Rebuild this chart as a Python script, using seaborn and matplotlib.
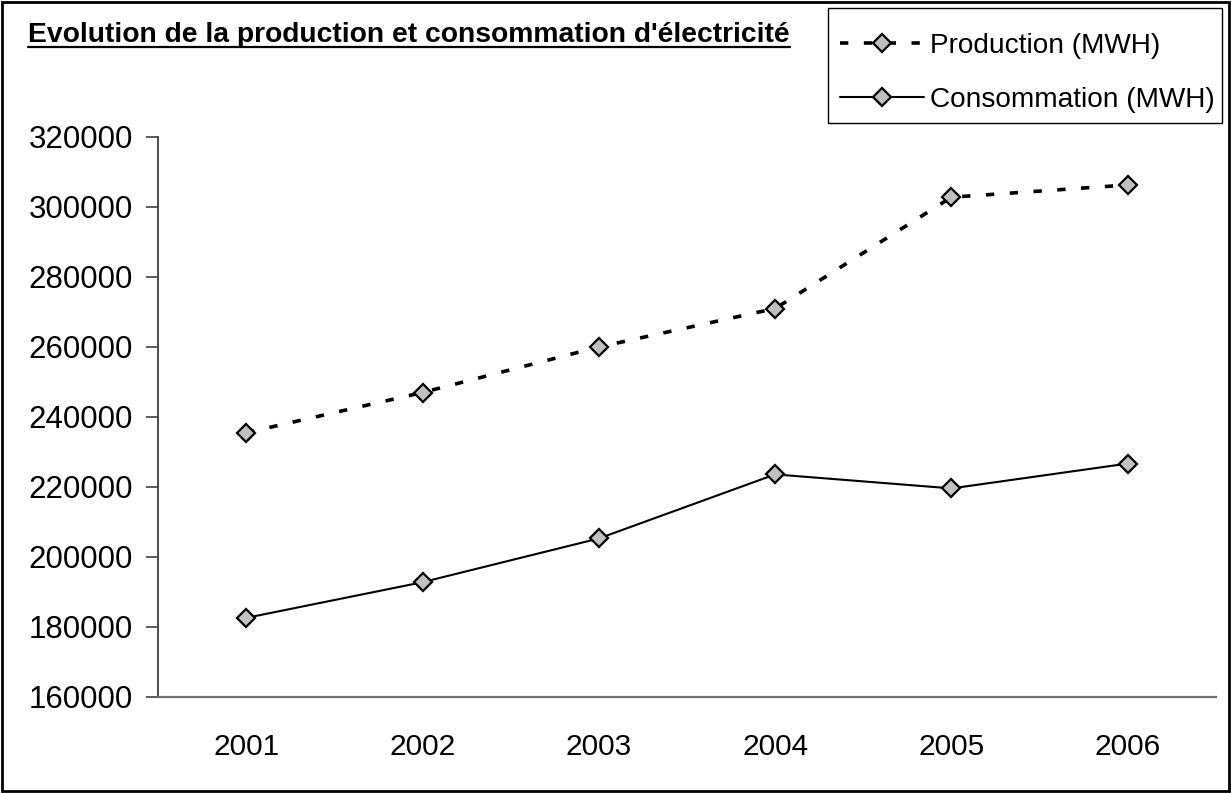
import matplotlib
matplotlib.use("Agg")
import matplotlib.pyplot as plt
import seaborn as sns
import pandas as pd
from matplotlib.lines import Line2D
from matplotlib.patches import Rectangle

years = ["2001", "2002", "2003", "2004", "2005", "2006"]
production = [235500, 247000, 260000, 271000, 302800, 306300]
consommation = [182600, 192800, 205300, 223600, 219600, 226700]
series_names = ["Production (MWH)", "Consommation (MWH)"]
title = "Evolution de la production et consommation d'électricité"
y_ticks = [160000, 180000, 200000, 220000, 240000, 260000, 280000, 300000, 320000]

sns.set_theme(style="white")
plt.rcParams["font.family"] = ["Liberation Sans", "DejaVu Sans"]
plt.rcParams["text.color"] = "black"
plt.rcParams["xtick.color"] = "black"
plt.rcParams["ytick.color"] = "black"

W, H = 1231, 793
fig = plt.figure(figsize=(W / 100, H / 100), dpi=100)
ax = fig.add_axes([158 / W, 1 - 697 / H, (1216 - 158) / W, (697 - 137) / H])

df_p = pd.DataFrame({"year": years, "value": production, "series": series_names[0]})
df_c = pd.DataFrame({"year": years, "value": consommation, "series": series_names[1]})

common = dict(marker="D", markersize=9.5, markerfacecolor="#C0C0C0",
              markeredgecolor="black", markeredgewidth=1.6)
dash = (0, (2.3, 4.3))
sns.lineplot(data=df_p, x="year", y="value", ax=ax, linewidth=2.6, color="black",
             linestyle=dash, legend=False, **common)
sns.lineplot(data=df_c, x="year", y="value", ax=ax, linewidth=1.5, color="black",
             legend=False, **common)

ax.set_xlim(-0.5, 5.5)
ax.set_ylim(160000, 320000)
ax.set_yticks(y_ticks)
ax.set_yticklabels([str(v) for v in y_ticks], fontsize=22.5, color="black")
ax.set_xticks(range(len(years)))
ax.set_xticklabels(years, fontsize=21.5, color="black")
ax.set_xticks([i - 0.5 for i in range(len(years) + 1)], minor=True)
ax.tick_params(axis="x", which="major", length=0, pad=26)
ax.tick_params(axis="x", which="minor", length=9, width=1.2, color="#404040", direction="out")
ax.tick_params(axis="y", which="major", length=9, width=1.2, color="#404040",
               direction="out", left=True, pad=9)
ax.set_xlabel("")
ax.set_ylabel("")
for s in ["top", "right"]:
    ax.spines[s].set_visible(False)
ax.spines["left"].set_color("#404040")
ax.spines["bottom"].set_color("#707070")
ax.spines["left"].set_linewidth(1.3)
ax.spines["bottom"].set_linewidth(1.6)
ax.grid(False)

# Title with underline
t = fig.text(28 / W, 1 - 42 / H, title, fontsize=20.3, fontweight="bold",
             ha="left", va="baseline", color="black")
fig.canvas.draw()
bb = t.get_window_extent(renderer=fig.canvas.get_renderer())
uy = (H - 47) / H
fig.add_artist(Line2D([bb.x0 / W, bb.x1 / W], [uy, uy], color="black", lw=1.6,
                      transform=fig.transFigure))

# Legend (frame drawn separately)
handles = [
    Line2D([], [], color="black", lw=2.6, linestyle=dash, **common),
    Line2D([], [], color="black", lw=1.5, **common),
]
leg = fig.legend(handles, series_names, loc="center left",
                 bbox_to_anchor=(840 / W, 1 - 73 / H), bbox_transform=fig.transFigure,
                 fontsize=20.2, frameon=False,
                 handlelength=3.0, handletextpad=0.2, labelspacing=1.0,
                 borderpad=0, borderaxespad=0)
for txt in leg.get_texts():
    txt.set_color("black")
fig.add_artist(Rectangle((828 / W, 1 - 123 / H), (1222 - 828) / W, (123 - 8) / H,
                         fill=False, edgecolor="black", lw=1.0, transform=fig.transFigure))

# Outer border
fig.add_artist(Rectangle((2 / W, 2 / H), (W - 4) / W, (H - 4) / H, fill=False,
                         edgecolor="black", lw=2, transform=fig.transFigure))

fig.savefig("out.png", dpi=100)
